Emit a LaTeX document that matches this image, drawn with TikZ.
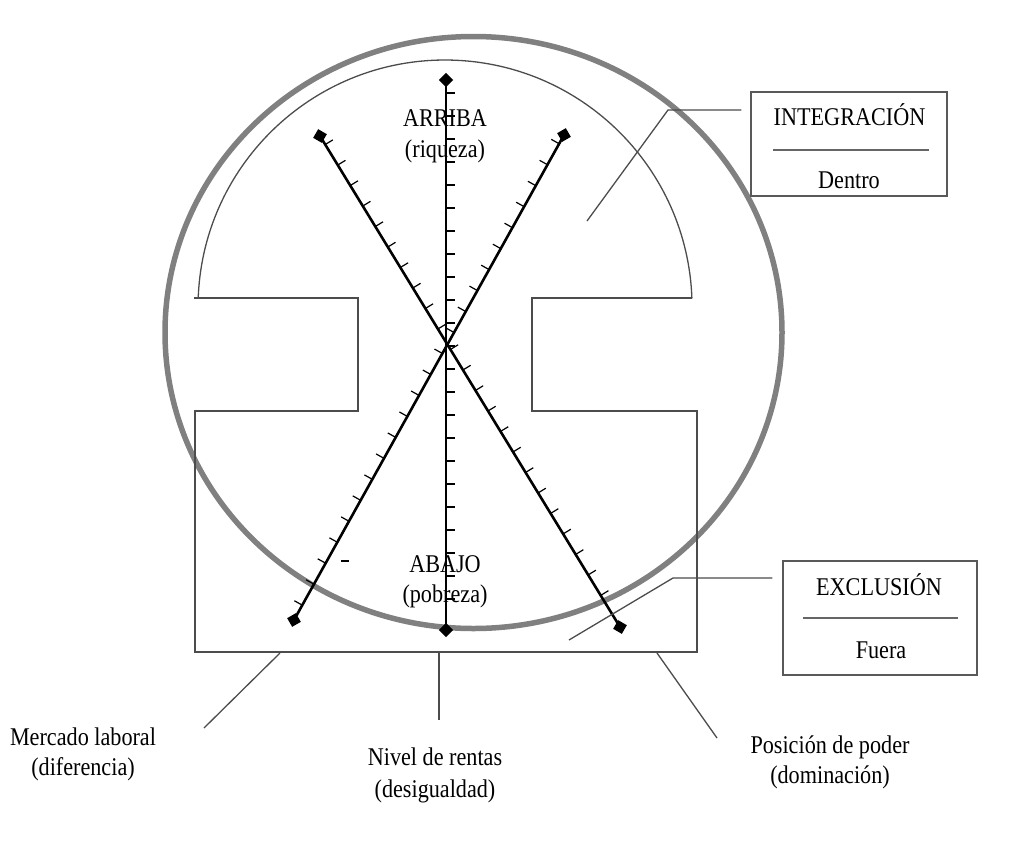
\documentclass[tikz,border=0pt]{standalone}
\usepackage{fontspec}
\setmainfont[FakeStretch=0.87]{Liberation Serif}
\usetikzlibrary{calc}
\tikzset{
  txt/.style={font=\fontsize{25.5}{30}\selectfont, inner sep=0pt, anchor=base},
  axisline/.style={line width=2.6pt},
  thinline/.style={line width=1.3pt, draw=black!70},
  tick/.style={line width=1.2pt},
  labelbox/.style={draw=black!65, line width=1.4pt, inner sep=0pt},
  endmark/.style={fill=black, inner sep=0pt, minimum size=10pt},
}

\begin{document}
\begin{tikzpicture}[x=1pt, y=-1pt]
    \useasboundingbox (0,0) rectangle (1023,863);
    % gray ring
    \draw[black!50, line width=5.5pt] (473.5,332.5) ellipse [x radius=308.5, y radius=296];
    % inner outline
    \draw[thinline] (198.2,298.4) arc[start angle=182, end angle=358, radius=247];
    \draw[thinline] (692,298) -- (532,298) -- (532,411) -- (697,411) -- (697,652)
        -- (195,652) -- (195,411) -- (358,411) -- (358,298) -- (194,298);

    % axes
    \coordinate (top) at (446,80);
    \coordinate (bot) at (446,630);
    \coordinate (tl) at (320,136);
    \coordinate (br) at (620,627);
    \coordinate (tr) at (564,135);
    \coordinate (bl) at (294,620);
    \draw[axisline] (top) -- (bot);
    \draw[axisline] (tl) -- (br);
    \draw[axisline] (tr) -- (bl);
    \foreach \k in {0,...,22} {
        \draw[tick] (446,{93+23*\k}) -- ++(9,0);
        \draw[tick] ($(tl)!{(10+24*\k)/575}!(br)$) -- ++(7.7,-4.7);
        \draw[tick] ($(tr)!{(10+24*\k)/555}!(bl)$) -- ++(-7.9,-4.4);
    }
    \node[endmark, rotate=45] (mark-top) at (top) {};
    \node[endmark, rotate=45] (mark-bot) at (bot) {};
    \node[endmark, rotate=-30] (mark-tl) at (tl) {};
    \node[endmark, rotate=-30] (mark-br) at (br) {};
    \node[endmark, rotate=30] (mark-tr) at (tr) {};
    \node[endmark, rotate=30] (mark-bl) at (bl) {};
    \draw[tick] (341,561) -- (349,561);

    \node[txt] (arriba) at (445,126) {ARRIBA};
    \node[txt] (arriba-sub) at (445,157) {(riqueza)};
    \node[txt] (abajo) at (445,572) {ABAJO};
    \node[txt] (abajo-sub) at (445,602) {(pobreza)};

    % boxes on the right
    \node[labelbox, minimum width=196pt, minimum height=104pt] (integ) at (849,144) {};
    \node[txt] (integ-top) at (849.5,125) {INTEGRACIÓN};
    \node[txt] (integ-bot) at (849,188) {Dentro};
    \draw[black!60, line width=2pt] (773,150) -- (929,150);
    \coordinate (integ-knee) at (668,110);
    \coordinate (integ-end) at (587,221);
    \draw[thinline] ([xshift=-9pt]integ.west |- integ-knee) -- (integ-knee) -- (integ-end);

    \node[labelbox, minimum width=194pt, minimum height=114pt] (excl) at (880,618) {};
    \node[txt] (excl-top) at (879,595) {EXCLUSIÓN};
    \node[txt] (excl-bot) at (881,658) {Fuera};
    \draw[black!60, line width=2pt] (803,618) -- (958,618);
    \coordinate (excl-knee) at (673,578);
    \coordinate (excl-end) at (569,640);
    \draw[thinline] ([xshift=-10pt]excl.west |- excl-knee) -- (excl-knee) -- (excl-end);

    % labels below
    \node[txt] (mercado) at (83,745) {Mercado laboral};
    \node[txt] (mercado-sub) at (83,775) {(diferencia)};
    \node[txt] (nivel) at (435,765) {Nivel de rentas};
    \node[txt] (nivel-sub) at (435,797) {(desigualdad)};
    \node[txt] (poder) at (830,753) {Posición de poder};
    \node[txt] (poder-sub) at (830,783) {(dominación)};
    \coordinate (mercado-in) at (280,653);
    \coordinate (mercado-out) at (204,728);
    \coordinate (nivel-in) at (439,653);
    \coordinate (nivel-out) at (439,720);
    \coordinate (poder-in) at (657,653);
    \coordinate (poder-out) at (717,738);
    \draw[thinline] (mercado-in) -- (mercado-out);
    \draw[thinline] (nivel-in) -- (nivel-out);
    \draw[thinline] (poder-in) -- (poder-out);
\end{tikzpicture}
\end{document}
